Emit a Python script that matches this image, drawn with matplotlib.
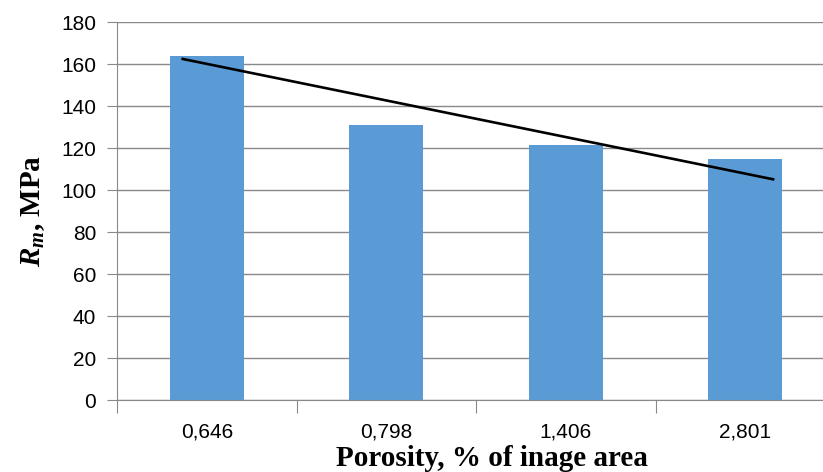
import matplotlib
matplotlib.use("Agg")
import matplotlib.pyplot as plt
import numpy as np

# porosity categories and tensile strength Rm (MPa)
categories = ["0,646", "0,798", "1,406", "2,801"]
rm_values = [163.8, 131.0, 121.5, 115.0]

# trend line as drawn in the original (category units -> MPa)
trend_x = [-0.134, 3.155]
trend_y = [162.4, 105.1]

plt.rcParams["mathtext.fontset"] = "custom"
plt.rcParams["mathtext.rm"] = "Liberation Serif:bold"
plt.rcParams["mathtext.it"] = "Liberation Serif:italic:bold"
plt.rcParams["mathtext.bf"] = "Liberation Serif:bold"

fig = plt.figure(figsize=(8.23, 4.72), dpi=100)
# the original is cropped on the right, so the axes run a bit past the edge
ax = fig.add_axes([117 / 823, 1 - 400 / 472, 718 / 823, 378 / 472])

x = np.arange(len(categories))
ax.bar(x, rm_values, width=0.41, color="#5B9BD5", zorder=2)
ax.plot(trend_x, trend_y, color="black", linewidth=1.9, zorder=3)

ax.set_xlim(-0.5, len(categories) - 0.5)
ax.set_ylim(0, 180)
ax.set_yticks(np.arange(0, 181, 20))
ax.yaxis.grid(True, color="#898989", linewidth=1.0, zorder=0)
ax.set_axisbelow(True)

# category boundaries get the tick marks, labels sit at the centres
ax.set_xticks(np.arange(-0.5, len(categories), 1.0))
ax.set_xticklabels([])
ax.set_xticks(x, minor=True)
ax.set_xticklabels(categories, minor=True, fontsize=15, family="Liberation Sans")
ax.tick_params(axis="x", which="major", length=9, color="#898989", direction="out")
ax.tick_params(axis="x", which="minor", length=0, pad=16)
ax.tick_params(axis="y", length=7, color="#898989", pad=8, labelsize=15)
for lab in ax.get_yticklabels():
    lab.set_family("Liberation Sans")

for s in ("top", "right"):
    ax.spines[s].set_visible(False)
for s in ("left", "bottom"):
    ax.spines[s].set_color("#898989")

ax.set_ylabel(r"$R_m$, MPa", family="Liberation Serif", fontweight="bold",
              fontsize=21, labelpad=10)
ax.set_xlabel("Porosity, % of inage area", family="Liberation Serif",
              fontweight="bold", fontsize=21, labelpad=3)
# the title sits a little right of the axes centre in the original
ax.xaxis.label.set_x((492 - 117) / 718)

fig.savefig("out.png", dpi=100)
